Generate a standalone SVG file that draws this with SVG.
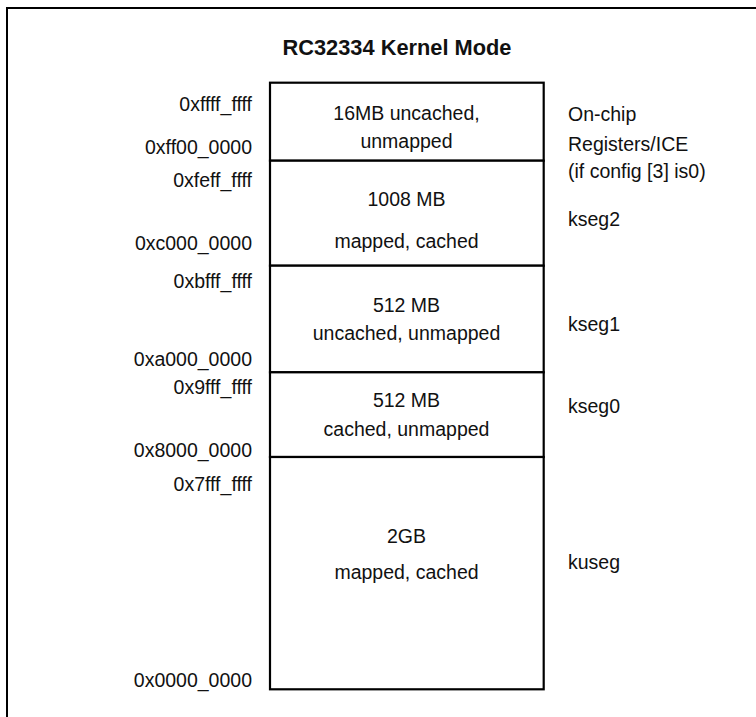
<svg xmlns="http://www.w3.org/2000/svg" width="756" height="717" viewBox="0 0 756 717">
<style>
text{font-family:"Liberation Sans",Arial,sans-serif;font-size:19.5px;fill:#111}
.title{font-weight:bold;font-size:21.8px}
.c{text-anchor:middle}
.r{text-anchor:end}
.seg{fill:#fff;stroke:#000;stroke-width:2.2}
.frame{fill:none;stroke:#000;stroke-width:2}
</style>
<rect width="756" height="717" fill="#fff"/>
<path class="frame" d="M7,717 V8 H756"/>
<g id="title"><text class="title c" x="397" y="55">RC32334 Kernel Mode</text></g>
<g id="seg-onchip">
<rect class="seg" x="270" y="82.7" width="273.7" height="78"/>
<text class="c" x="406.5" y="120">16MB uncached,</text>
<text class="c" x="406.5" y="147.5">unmapped</text>
<text class="r" x="252" y="111">0xffff_ffff</text>
<text class="r" x="252" y="154.3">0xff00_0000</text>
<text x="568" y="121">On-chip</text>
<text x="568" y="150.5">Registers/ICE</text>
<text x="568" y="178">(if config [3] is0)</text>
</g>
<g id="seg-kseg2">
<rect class="seg" x="270" y="160.7" width="273.7" height="105"/>
<text class="c" x="406.5" y="206">1008 MB</text>
<text class="c" x="406.5" y="247.5">mapped, cached</text>
<text class="r" x="252" y="187">0xfeff_ffff</text>
<text class="r" x="252" y="250">0xc000_0000</text>
<text x="568" y="226">kseg2</text>
</g>
<g id="seg-kseg1">
<rect class="seg" x="270" y="265.7" width="273.7" height="106.6"/>
<text class="c" x="406.5" y="312">512 MB</text>
<text class="c" x="406.5" y="340">uncached, unmapped</text>
<text class="r" x="252" y="288">0xbfff_ffff</text>
<text class="r" x="252" y="365.5">0xa000_0000</text>
<text x="568" y="331">kseg1</text>
</g>
<g id="seg-kseg0">
<rect class="seg" x="270" y="372.3" width="273.7" height="84.7"/>
<text class="c" x="406.5" y="407">512 MB</text>
<text class="c" x="406.5" y="436">cached, unmapped</text>
<text class="r" x="252" y="393.5">0x9fff_ffff</text>
<text class="r" x="252" y="457">0x8000_0000</text>
<text x="568" y="413">kseg0</text>
</g>
<g id="seg-kuseg">
<rect class="seg" x="270" y="457" width="273.7" height="232.3"/>
<text class="c" x="406.5" y="542.5">2GB</text>
<text class="c" x="406.5" y="578.5">mapped, cached</text>
<text class="r" x="252" y="491">0x7fff_ffff</text>
<text class="r" x="252" y="686.5">0x0000_0000</text>
<text x="568" y="569">kuseg</text>
</g>
<g id="connectors"/>
</svg>
